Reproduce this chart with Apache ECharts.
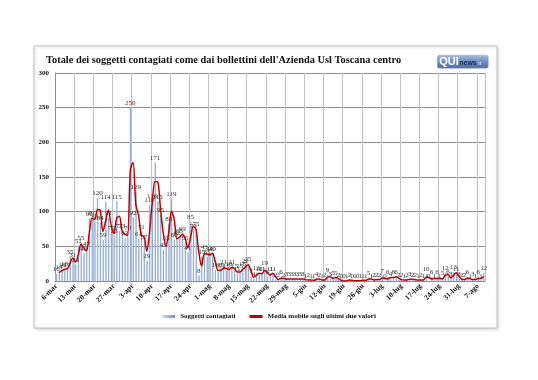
<!DOCTYPE html>
<html>
<head>
<meta charset="utf-8">
<script src="https://cdn.jsdelivr.net/npm/echarts@6/dist/echarts.min.js"></script>
<style>
html,body{margin:0;padding:0;background:#fff;}
#c{width:538px;height:380px;}
</style>
</head>
<body>
<div id="c"></div>
<script>
// ---- data ----
var titleText = "Totale dei soggetti contagiati come dai bollettini dell'Azienda Usl Toscana centro";
var seriesNames = ["Soggetti contagiati", "Media mobile sugli ultimi due valori"];
var monthSpans = [["mar", 6, 31], ["apr", 1, 30], ["mag", 1, 31], ["giu", 1, 30], ["lug", 1, 31], ["ago", 1, 9]];
var yTicks = [0, 50, 100, 150, 200, 250, 300];

var contagiati = [
  10, 14, 16, 18, 17, 35, 31, 24, 51, 55, 40, 47, 90, 91, 86, 120, 84, 59, 114, 91,
  70, 66, 115, 72, 73, 62, 70, 250, 92, 129, 61, 71, 57, 29, 110, 116, 171, 115, 95, 45,
  55, 83, 119, 60, 62, 65, 69, 55, 41, 85, 73, 75, 8, 35, 43, 35, 40, 40, 16, 15,
  16, 21, 15, 18, 21, 15, 11, 15, 18, 22, 25, 7, 4, 12, 10, 11, 19, 6, 11, 11,
  2, 2, 6, 2, 3, 3, 3, 3, 3, 3, 3, 1, 2, 1, 1, 4, 2, 1, 2, 9,
  3, 5, 5, 2, 0, 0, 1, 2, 0, 1, 0, 1, 1, 1, 5, 1, 2, 2, 2, 7,
  0, 6, 4, 6, 6, 2, 2, 1, 2, 3, 2, 2, 1, 2, 1, 10, 0, 6, 1, 6,
  1, 5, 12, 6, 3, 13, 11, 3, 2, 2, 6, 1, 3, 1, 6, 1, 12
];

var mediaMobile = [
  null, 12, 15, 17, 17.5, 26, 33, 27.5, 37.5, 53, 47.5, 43.5, 68.5, 90.5, 88.5, 103, 102, 71.5, 86.5, 102.5,
  80.5, 68, 90.5, 93.5, 72.5, 67.5, 66, 160, 171, 110.5, 95, 66, 64, 43, 69.5, 113, 143.5, 143, 105, 70,
  50, 69, 101, 89.5, 61, 63.5, 67, 62, 48, 63, 79, 74, 41.5, 21.5, 39, 39, 37.5, 40, 28, 15.5,
  15.5, 18.5, 18, 16.5, 19.5, 18, 13, 13, 16.5, 20, 23.5, 16, 5.5, 8, 11, 10.5, 15, 12.5, 8.5, 11,
  6.5, 2, 4, 4, 2.5, 3, 3, 3, 3, 3, 3, 2, 1.5, 1.5, 1, 2.5, 3, 1.5, 1.5, 5.5,
  6, 4, 5, 3.5, 1, 0, 0.5, 1.5, 1, 0.5, 0.5, 0.5, 1, 1, 3, 3, 1.5, 2, 2, 4.5,
  3.5, 3, 5, 5, 6, 4, 2, 1.5, 1.5, 2.5, 2.5, 2, 1.5, 1.5, 1.5, 5.5, 5, 3, 3.5, 3.5,
  3.5, 3, 8.5, 9, 4.5, 8, 12, 7, 2.5, 2, 4, 3.5, 2, 2, 3.5, 3.5, 6.5
];

// ---- categories (dates) ----
var categories = [];
monthSpans.forEach(function (m) {
  for (var d = m[1]; d <= m[2]; d++) categories.push(d + "-" + m[0]);
});

var peakIdx = contagiati.indexOf(Math.max.apply(null, contagiati));
var barData = contagiati.map(function (v, i) {
  return i === peakIdx ? { value: v, label: { color: "#c00000" } } : v;
});

var serif = "'Liberation Serif', 'DejaVu Serif', serif";
var chart = echarts.init(document.getElementById("c"), null, { renderer: "canvas" });

chart.setOption({
  backgroundColor: "#ffffff",
  animation: false,
  graphic: [
    {
      type: "rect", z: -10,
      shape: { x: 34, y: 46, width: 463, height: 282 },
      style: { fill: "#ffffff", stroke: "#c4c4c4", lineWidth: 1, shadowColor: "rgba(0,0,0,0.18)", shadowBlur: 3, shadowOffsetX: 1, shadowOffsetY: 1 }
    },
    {
      type: "text", left: 46, top: 55, z: 10,
      style: { text: titleText, font: "bold 10.4px " + serif, fill: "#111111" }
    },
    {
      type: "group", left: 437, top: 55, z: 10,
      children: [
        {
          type: "rect", shape: { x: 0, y: 0, width: 51, height: 13, r: 2 },
          style: {
            fill: new echarts.graphic.LinearGradient(0, 0, 0, 1, [
              { offset: 0, color: "#a9bde0" }, { offset: 0.5, color: "#6f8cc0" }, { offset: 1, color: "#4e6ca3" }
            ]),
            stroke: "#8ea4cc", lineWidth: 0.5
          }
        },
        { type: "text", x: 2, y: 1, style: { text: "QUI", font: "bold 11px 'Liberation Sans', Arial, sans-serif", fill: "#ffffff" } },
        { type: "text", x: 22, y: 4, style: { text: "news", font: "bold 7px 'Liberation Sans', Arial, sans-serif", fill: "#1c2b4e" } },
        { type: "text", x: 41, y: 5.5, style: { text: "it", font: "bold 5px 'Liberation Sans', Arial, sans-serif", fill: "#c9d6ee" } }
      ]
    }
  ],
  legend: {
    bottom: 55,
    left: "center",
    itemGap: 14,
    itemWidth: 13,
    itemHeight: 3,
    textStyle: { fontFamily: serif, fontWeight: "bold", fontSize: 7, color: "#111" },
    data: [
      { name: seriesNames[0], icon: "rect" },
      { name: seriesNames[1], icon: "rect" }
    ]
  },
  grid: { left: 55, right: 53, top: 73, bottom: 99, containLabel: false },
  xAxis: {
    type: "category",
    data: categories,
    boundaryGap: true,
    axisLine: { show: true, lineStyle: { color: "#8c8c8c", width: 1 } },
    axisTick: { show: false, interval: 6 },
    splitLine: { show: true, interval: 6, lineStyle: { color: "#c2c2c2", width: 1 } },
    axisLabel: {
      interval: 6, rotate: 45, margin: 4,
      fontFamily: serif, fontWeight: "bold", fontSize: 7.5, color: "#111"
    }
  },
  yAxis: {
    type: "value",
    min: yTicks[0], max: yTicks[yTicks.length - 1], interval: 50,
    axisLine: { show: true, lineStyle: { color: "#8c8c8c" } },
    axisTick: { show: false },
    splitLine: { show: true, lineStyle: { color: "#909090", width: 1 } },
    axisLabel: { margin: 6, fontFamily: serif, fontWeight: "bold", fontSize: 7, color: "#111" }
  },
  series: [
    {
      name: seriesNames[0],
      type: "bar",
      data: barData,
      barWidth: "55%",
      itemStyle: {
        color: new echarts.graphic.LinearGradient(0, 0, 1, 0, [
          { offset: 0, color: "#d6e0f2" }, { offset: 0.5, color: "#9fb6e0" }, { offset: 1, color: "#6f8dc8" }
        ])
      },
      label: {
        show: true, position: "top", distance: 1,
        fontFamily: serif, fontSize: 7, color: "#333"
      },
      z: 2
    },
    {
      name: seriesNames[1],
      type: "line",
      data: mediaMobile,
      symbol: "none",
      smooth: 0.3,
      lineStyle: { color: "#c00000", width: 1.5 },
      itemStyle: { color: "#c00000" },
      z: 3
    }
  ]
});
</script>
</body>
</html>
